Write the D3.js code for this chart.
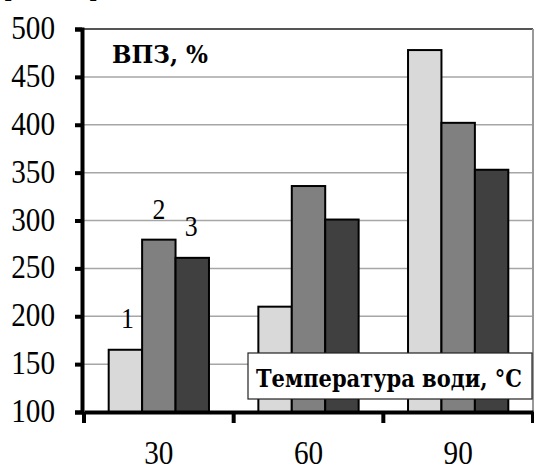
<!DOCTYPE html>
<html><head><meta charset="utf-8">
<script src="https://cdn.jsdelivr.net/npm/d3@7"></script>
<style>body{margin:0;background:#fff}svg{display:block}</style>
</head><body>
<script>
const categories = ["30", "60", "90"];
const seriesNames = ["1", "2", "3"];
const series1 = [165, 210, 478];
const series2 = [280, 336, 402];
const series3 = [261, 301, 353];
const yTicks = [100, 150, 200, 250, 300, 350, 400, 450, 500];
const yTitle = "ВПЗ, %";
const xTitle = "Температура води, °С";
const colors = ["#d9d9d9", "#808080", "#404040"];

const W = 534, H = 467;
const mLeft = 84, mRight = 533, mTop = 29, mBottom = 412;
const SX = 0.86;
const serif = "'Liberation Serif','Times New Roman',serif";
const cyrSerif = "'DejaVu Serif Condensed','DejaVu Serif',serif";

const svg = d3.select("body").append("svg").attr("width", W).attr("height", H);

const x = d3.scaleBand().domain(categories).range([mLeft, mRight]).paddingInner(0.33).paddingOuter(0.165);
const xs = d3.scaleBand().domain(seriesNames).range([0, x.bandwidth()]);
const y = d3.scaleLinear().domain([100, 500]).range([mBottom, mTop]);

function stxt(g, tx, ty, str, size, anchor, fam) {
  return g.append("text")
    .attr("transform", `translate(${tx},${ty}) scale(${SX},1)`)
    .attr("text-anchor", anchor || "start")
    .attr("font-family", fam || serif)
    .attr("font-size", size)
    .attr("fill", "#000")
    .text(str);
}
function btxt(g, tx, ty, str, size, len) {
  return g.append("text")
    .attr("x", tx).attr("y", ty)
    .attr("font-family", cyrSerif)
    .attr("font-weight", "bold")
    .attr("font-size", size)
    .attr("fill", "#000")
    .attr("textLength", len).attr("lengthAdjust", "spacingAndGlyphs")
    .text(str);
}

// clipped caption fragments above the chart (descender tips only)
[["р", 12], ["р", 97], ["д", 175], ["д", 403]].forEach(([c, px]) => {
  stxt(svg, px, -5, c, 30, "middle", cyrSerif);
});

// gridlines
svg.append("g").selectAll("line").data(yTicks.filter(t => t > 100 && t < 500)).join("line")
  .attr("x1", mLeft).attr("x2", mRight)
  .attr("y1", d => y(d)).attr("y2", d => y(d))
  .attr("stroke", "#a6a6a6").attr("stroke-width", 1.5);

// plot border top & right
svg.append("line").attr("x1", mLeft).attr("x2", mRight).attr("y1", y(500)).attr("y2", y(500))
  .attr("stroke", "#555").attr("stroke-width", 2);
svg.append("line").attr("x1", mRight).attr("x2", mRight).attr("y1", y(500)).attr("y2", mBottom)
  .attr("stroke", "#999").attr("stroke-width", 2);

// bars
const data = categories.map((c, i) => ({c, vals: [series1[i], series2[i], series3[i]]}));
const grp = svg.append("g").selectAll("g").data(data).join("g")
  .attr("transform", d => `translate(${x(d.c)},0)`);
grp.selectAll("rect").data(d => d.vals.map((v, j) => ({v, s: seriesNames[j], j}))).join("rect")
  .attr("x", d => xs(d.s)).attr("width", xs.bandwidth())
  .attr("y", d => y(d.v)).attr("height", d => mBottom - y(d.v))
  .attr("fill", d => colors[d.j]).attr("stroke", "#000").attr("stroke-width", 2);

// series number labels on first group
const g0 = x(categories[0]);
stxt(svg, g0 + xs("1") + xs.bandwidth() / 2 + 2, y(series1[0]) - 22, "1", 30, "middle");
stxt(svg, g0 + xs("2") + xs.bandwidth() / 2, y(series2[0]) - 21, "2", 30, "middle");
stxt(svg, g0 + xs("3") + xs.bandwidth() / 2 - 1, y(series3[0]) - 22, "3", 30, "middle");

// y axis
const yAxis = svg.append("g").attr("transform", `translate(${mLeft - 2},0)`)
  .call(d3.axisLeft(y).tickValues(yTicks).tickSize(7).tickFormat(d3.format("d")));
yAxis.select(".domain").attr("stroke", "#000").attr("stroke-width", 4);
yAxis.selectAll(".tick line").attr("stroke", "#000").attr("stroke-width", 4);
yAxis.selectAll(".tick text").remove();
yTicks.forEach(t => stxt(svg, 55, y(t) + 10, String(t), 34, "end"));

// x axis
const xAxis = svg.append("g").attr("transform", `translate(0,${mBottom})`)
  .call(d3.axisBottom(x).tickSize(0));
xAxis.select(".domain").attr("stroke", "#000").attr("stroke-width", 4);
xAxis.selectAll(".tick text").remove();
const bounds = [mLeft, ...categories.slice(1).map(c => x(c) - x.step() * x.paddingInner() / 2), mRight];
svg.append("g").selectAll("line").data(bounds).join("line")
  .attr("x1", d => d).attr("x2", d => d).attr("y1", mBottom).attr("y2", mBottom + 11)
  .attr("stroke", "#000").attr("stroke-width", 4);
categories.forEach(c => stxt(svg, x(c) + x.bandwidth() / 2, 464, c, 34, "middle"));

// y title
btxt(svg, 112, 63, yTitle, 25, 96);

// x title box
svg.append("rect").attr("x", 248).attr("y", 353).attr("width", 284).attr("height", 46)
  .attr("fill", "#fff").attr("stroke", "#222").attr("stroke-width", 1.2);
btxt(svg, 256, 387, xTitle, 25, 266);
</script>
</body></html>
